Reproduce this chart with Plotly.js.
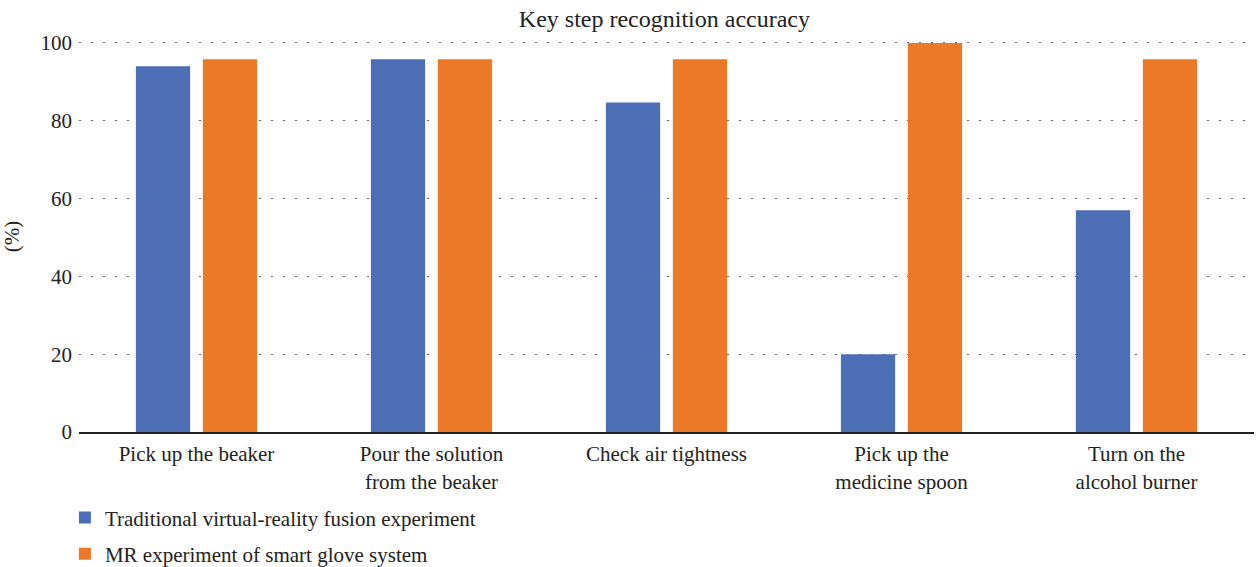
<!DOCTYPE html>
<html><head><meta charset="utf-8">
<script src="https://cdn.plot.ly/plotly-3.0.1.min.js"></script>
<style>html,body{margin:0;padding:0;background:#fff;}#chart{width:1256px;height:567px;}</style>
</head><body><div id="chart"></div>
<script>
var categories = ["Pick up the beaker", "Pour the solution<br>from the beaker", "Check air tightness", "Pick up the<br>medicine spoon", "Turn on the<br>alcohol burner"];
var traditional = [94, 95.8, 84.7, 20, 57];
var mrGlove = [95.8, 95.8, 95.8, 100, 95.8];
var seriesNames = ["Traditional virtual-reality fusion experiment", "MR experiment of smart glove system"];
var yTicks = [0, 20, 40, 60, 80, 100];

var font = "'Liberation Serif', 'DejaVu Serif', serif";
var data = [
  {type: 'bar', x: categories, y: traditional, name: seriesNames[0], legendgroup: 'a', marker: {color: '#4C6EB4'}},
  {type: 'bar', x: categories, y: mrGlove, name: seriesNames[1], legendgroup: 'b', marker: {color: '#EB7928'}}
];
var layout = {
  width: 1256, height: 567,
  margin: {l: 79, r: 2, t: 41, b: 135, autoexpand: false},
  paper_bgcolor: '#fff', plot_bgcolor: '#fff',
  font: {family: font, size: 21, color: '#222'},
  title: {text: 'Key step recognition accuracy', font: {family: font, size: 24, color: '#222'}, x: 0.529, xanchor: 'center', y: 0.968, yanchor: 'middle'},
  barmode: 'group', bargap: 0.43, bargroupgap: 0.19,
  xaxis: {showgrid: false, showline: true, linecolor: '#222', linewidth: 2, ticks: '', ticklabelstandoff: 2, tickfont: {family: font, size: 21, color: '#222'}, zeroline: false},
  yaxis: {range: [0, 100.5], tickvals: yTicks, ticktext: yTicks.map(String), showgrid: true, gridcolor: '#666', griddash: '2px,10px', gridwidth: 1, zeroline: false, showline: false, ticks: '', ticklen: 0, ticklabelstandoff: 6, tickfont: {family: font, size: 21, color: '#222'},
    title: {text: '(%)', font: {family: font, size: 21, color: '#222'}, standoff: 18}},
  showlegend: true,
  legend: {orientation: 'v', x: -0.012, xanchor: 'left', y: -0.167, yanchor: 'top', traceorder: 'grouped', tracegroupgap: 6, font: {family: font, size: 21, color: '#222'}}
};
Plotly.newPlot('chart', data, layout, {displayModeBar: false, staticPlot: true});
</script></body></html>
